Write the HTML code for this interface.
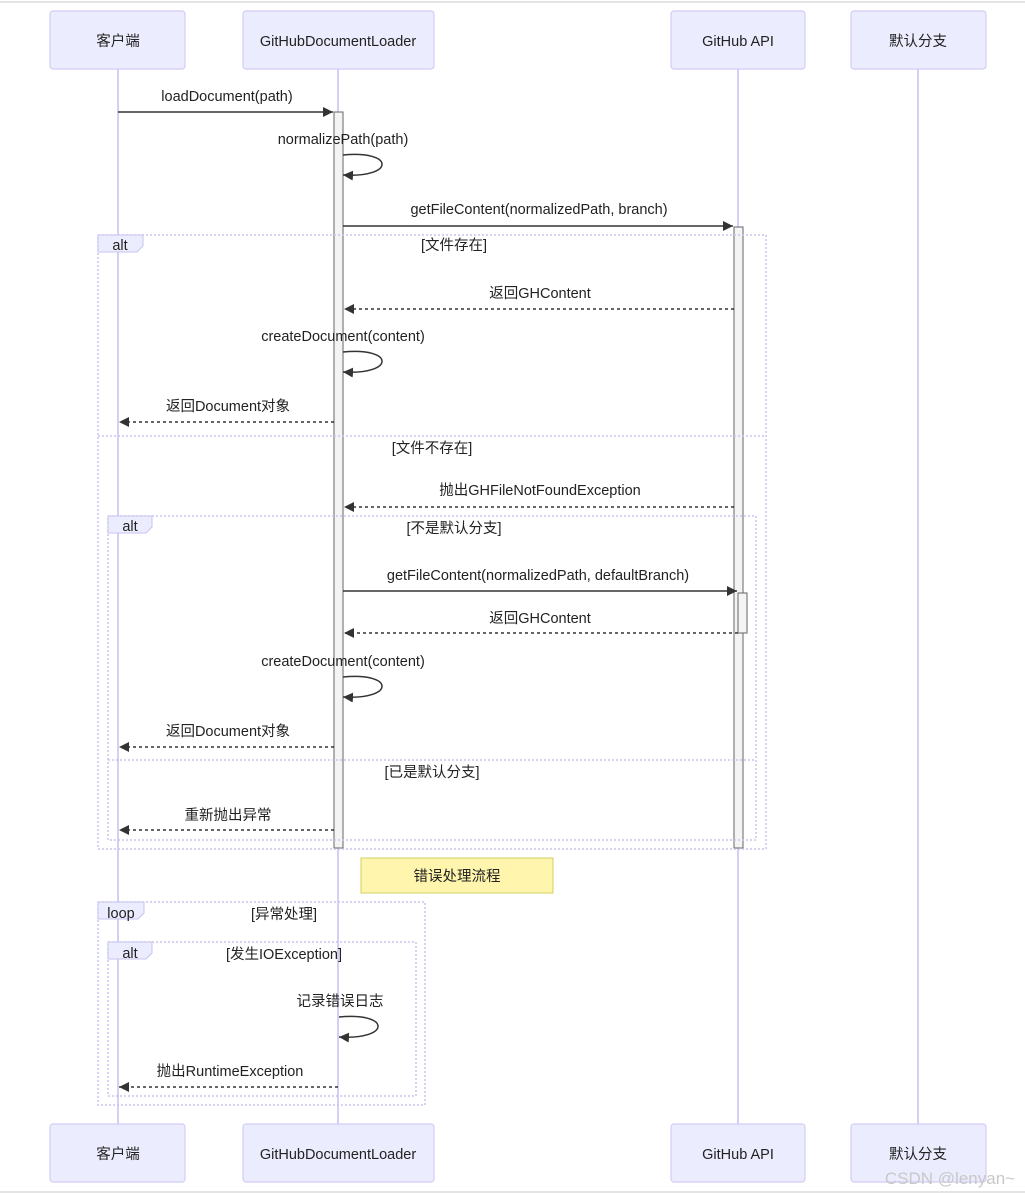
<!DOCTYPE html>
<html><head><meta charset="utf-8"><style>
html,body{margin:0;padding:0;background:#fff;}
svg{display:block;}
text{font-family:"Liberation Sans","Noto Sans CJK SC",sans-serif;font-size:14.5px;fill:#222;}
.actor{fill:#ececff;stroke:#d4ccf5;stroke-width:1.2;}
.life{stroke:#d6cff5;stroke-width:2;}
.frame{fill:none;stroke:#c9c3ef;stroke-width:1.5;stroke-dasharray:2,2;}
.tab{fill:#ececff;stroke:#c9c3ef;stroke-width:1;}
.msg{stroke:#333;stroke-width:1.5;fill:none;}
.dash{stroke:#333;stroke-width:1.5;fill:none;stroke-dasharray:3,3;}
.act{fill:#f4f4f4;stroke:#666;stroke-width:1;}
</style></head><body>
<svg width="1025" height="1195" viewBox="0 0 1025 1195" xmlns="http://www.w3.org/2000/svg">
<defs><marker id="ah" markerWidth="12" markerHeight="12" refX="10" refY="5" orient="auto" markerUnits="userSpaceOnUse"><path d="M0,0 L10,5 L0,10 z" fill="#333"/></marker></defs>
<line x1="0" y1="2" x2="1025" y2="2" stroke="#e4e4e4" stroke-width="2"/>
<line x1="0" y1="1192" x2="1025" y2="1192" stroke="#e4e4e4" stroke-width="2"/>
<line class="life" x1="118" y1="69" x2="118" y2="1124"/>
<line class="life" x1="338" y1="69" x2="338" y2="1124"/>
<line class="life" x1="738" y1="69" x2="738" y2="1124"/>
<line class="life" x1="918" y1="69" x2="918" y2="1124"/>
<g>
<rect class="actor" x="50" y="11" width="135" height="58" rx="3"/><text x="118" y="46" text-anchor="middle">客户端</text>
<rect class="actor" x="243" y="11" width="191" height="58" rx="3"/><text x="338" y="46" text-anchor="middle">GitHubDocumentLoader</text>
<rect class="actor" x="671" y="11" width="134" height="58" rx="3"/><text x="738" y="46" text-anchor="middle">GitHub API</text>
<rect class="actor" x="851" y="11" width="135" height="58" rx="3"/><text x="918" y="46" text-anchor="middle">默认分支</text>
<rect class="actor" x="50" y="1124" width="135" height="58" rx="3"/><text x="118" y="1159" text-anchor="middle">客户端</text>
<rect class="actor" x="243" y="1124" width="191" height="58" rx="3"/><text x="338" y="1159" text-anchor="middle">GitHubDocumentLoader</text>
<rect class="actor" x="671" y="1124" width="134" height="58" rx="3"/><text x="738" y="1159" text-anchor="middle">GitHub API</text>
<rect class="actor" x="851" y="1124" width="135" height="58" rx="3"/><text x="918" y="1159" text-anchor="middle">默认分支</text>
</g>
<rect class="act" x="334" y="112" width="9" height="736"/>
<rect class="act" x="734" y="227" width="9" height="621"/>
<rect class="act" x="738" y="593" width="9" height="40"/>
<rect class="frame" x="98" y="235" width="668" height="614"/>
<path class="tab" d="M98,235 H143 V246 L137,252 H98 Z"/><text x="120" y="250" text-anchor="middle">alt</text>
<text x="454" y="250" text-anchor="middle">[文件存在]</text>
<line class="frame" x1="98" y1="436" x2="766" y2="436"/>
<text x="432" y="453" text-anchor="middle">[文件不存在]</text>
<rect class="frame" x="108" y="516" width="648" height="324"/>
<path class="tab" d="M108,516 H152 V527 L146,533 H108 Z"/><text x="130" y="531" text-anchor="middle">alt</text>
<text x="454" y="533" text-anchor="middle">[不是默认分支]</text>
<line class="frame" x1="108" y1="760" x2="756" y2="760"/>
<text x="432" y="777" text-anchor="middle">[已是默认分支]</text>
<rect class="frame" x="98" y="902" width="327" height="203"/>
<path class="tab" d="M98,902 H144 V913 L138,919 H98 Z"/><text x="121" y="918" text-anchor="middle">loop</text>
<text x="284" y="919" text-anchor="middle">[异常处理]</text>
<rect class="frame" x="108" y="942" width="308" height="154"/>
<path class="tab" d="M108,942 H152 V953 L146,959 H108 Z"/><text x="130" y="958" text-anchor="middle">alt</text>
<text x="284" y="959" text-anchor="middle">[发生IOException]</text>
<text x="227" y="101" text-anchor="middle">loadDocument(path)</text>
<line class="msg" x1="118" y1="112" x2="333" y2="112" marker-end="url(#ah)"/>
<text x="343" y="144" text-anchor="middle">normalizePath(path)</text>
<path class="msg" d="M343,155 C395,150 395,178 343,175" marker-end="url(#ah)"/>
<text x="539" y="214" text-anchor="middle">getFileContent(normalizedPath, branch)</text>
<line class="msg" x1="343" y1="226" x2="733" y2="226" marker-end="url(#ah)"/>
<text x="540" y="298" text-anchor="middle">返回GHContent</text>
<line class="dash" x1="734" y1="309" x2="344" y2="309" marker-end="url(#ah)"/>
<text x="343" y="341" text-anchor="middle">createDocument(content)</text>
<path class="msg" d="M343,352 C395,347 395,375 343,372" marker-end="url(#ah)"/>
<text x="228" y="411" text-anchor="middle">返回Document对象</text>
<line class="dash" x1="334" y1="422" x2="119" y2="422" marker-end="url(#ah)"/>
<text x="540" y="495" text-anchor="middle">抛出GHFileNotFoundException</text>
<line class="dash" x1="734" y1="507" x2="344" y2="507" marker-end="url(#ah)"/>
<text x="538" y="580" text-anchor="middle">getFileContent(normalizedPath, defaultBranch)</text>
<line class="msg" x1="343" y1="591" x2="737" y2="591" marker-end="url(#ah)"/>
<text x="540" y="623" text-anchor="middle">返回GHContent</text>
<line class="dash" x1="738" y1="633" x2="344" y2="633" marker-end="url(#ah)"/>
<text x="343" y="666" text-anchor="middle">createDocument(content)</text>
<path class="msg" d="M343,677 C395,672 395,700 343,697" marker-end="url(#ah)"/>
<text x="228" y="736" text-anchor="middle">返回Document对象</text>
<line class="dash" x1="334" y1="747" x2="119" y2="747" marker-end="url(#ah)"/>
<text x="228" y="820" text-anchor="middle">重新抛出异常</text>
<line class="dash" x1="334" y1="830" x2="119" y2="830" marker-end="url(#ah)"/>
<rect x="361" y="858" width="192" height="35" fill="#fff5ad" stroke="#d0d060" stroke-width="1"/>
<text x="457" y="881" text-anchor="middle">错误处理流程</text>
<text x="340" y="1006" text-anchor="middle">记录错误日志</text>
<path class="msg" d="M339,1017 C391,1012 391,1040 339,1037" marker-end="url(#ah)"/>
<text x="230" y="1076" text-anchor="middle">抛出RuntimeException</text>
<line class="dash" x1="338" y1="1087" x2="119" y2="1087" marker-end="url(#ah)"/>
<text x="950" y="1184" text-anchor="middle" style="font-size:17px;fill:#c8c8c8">CSDN @lenyan~</text>
</svg>
</body></html>
